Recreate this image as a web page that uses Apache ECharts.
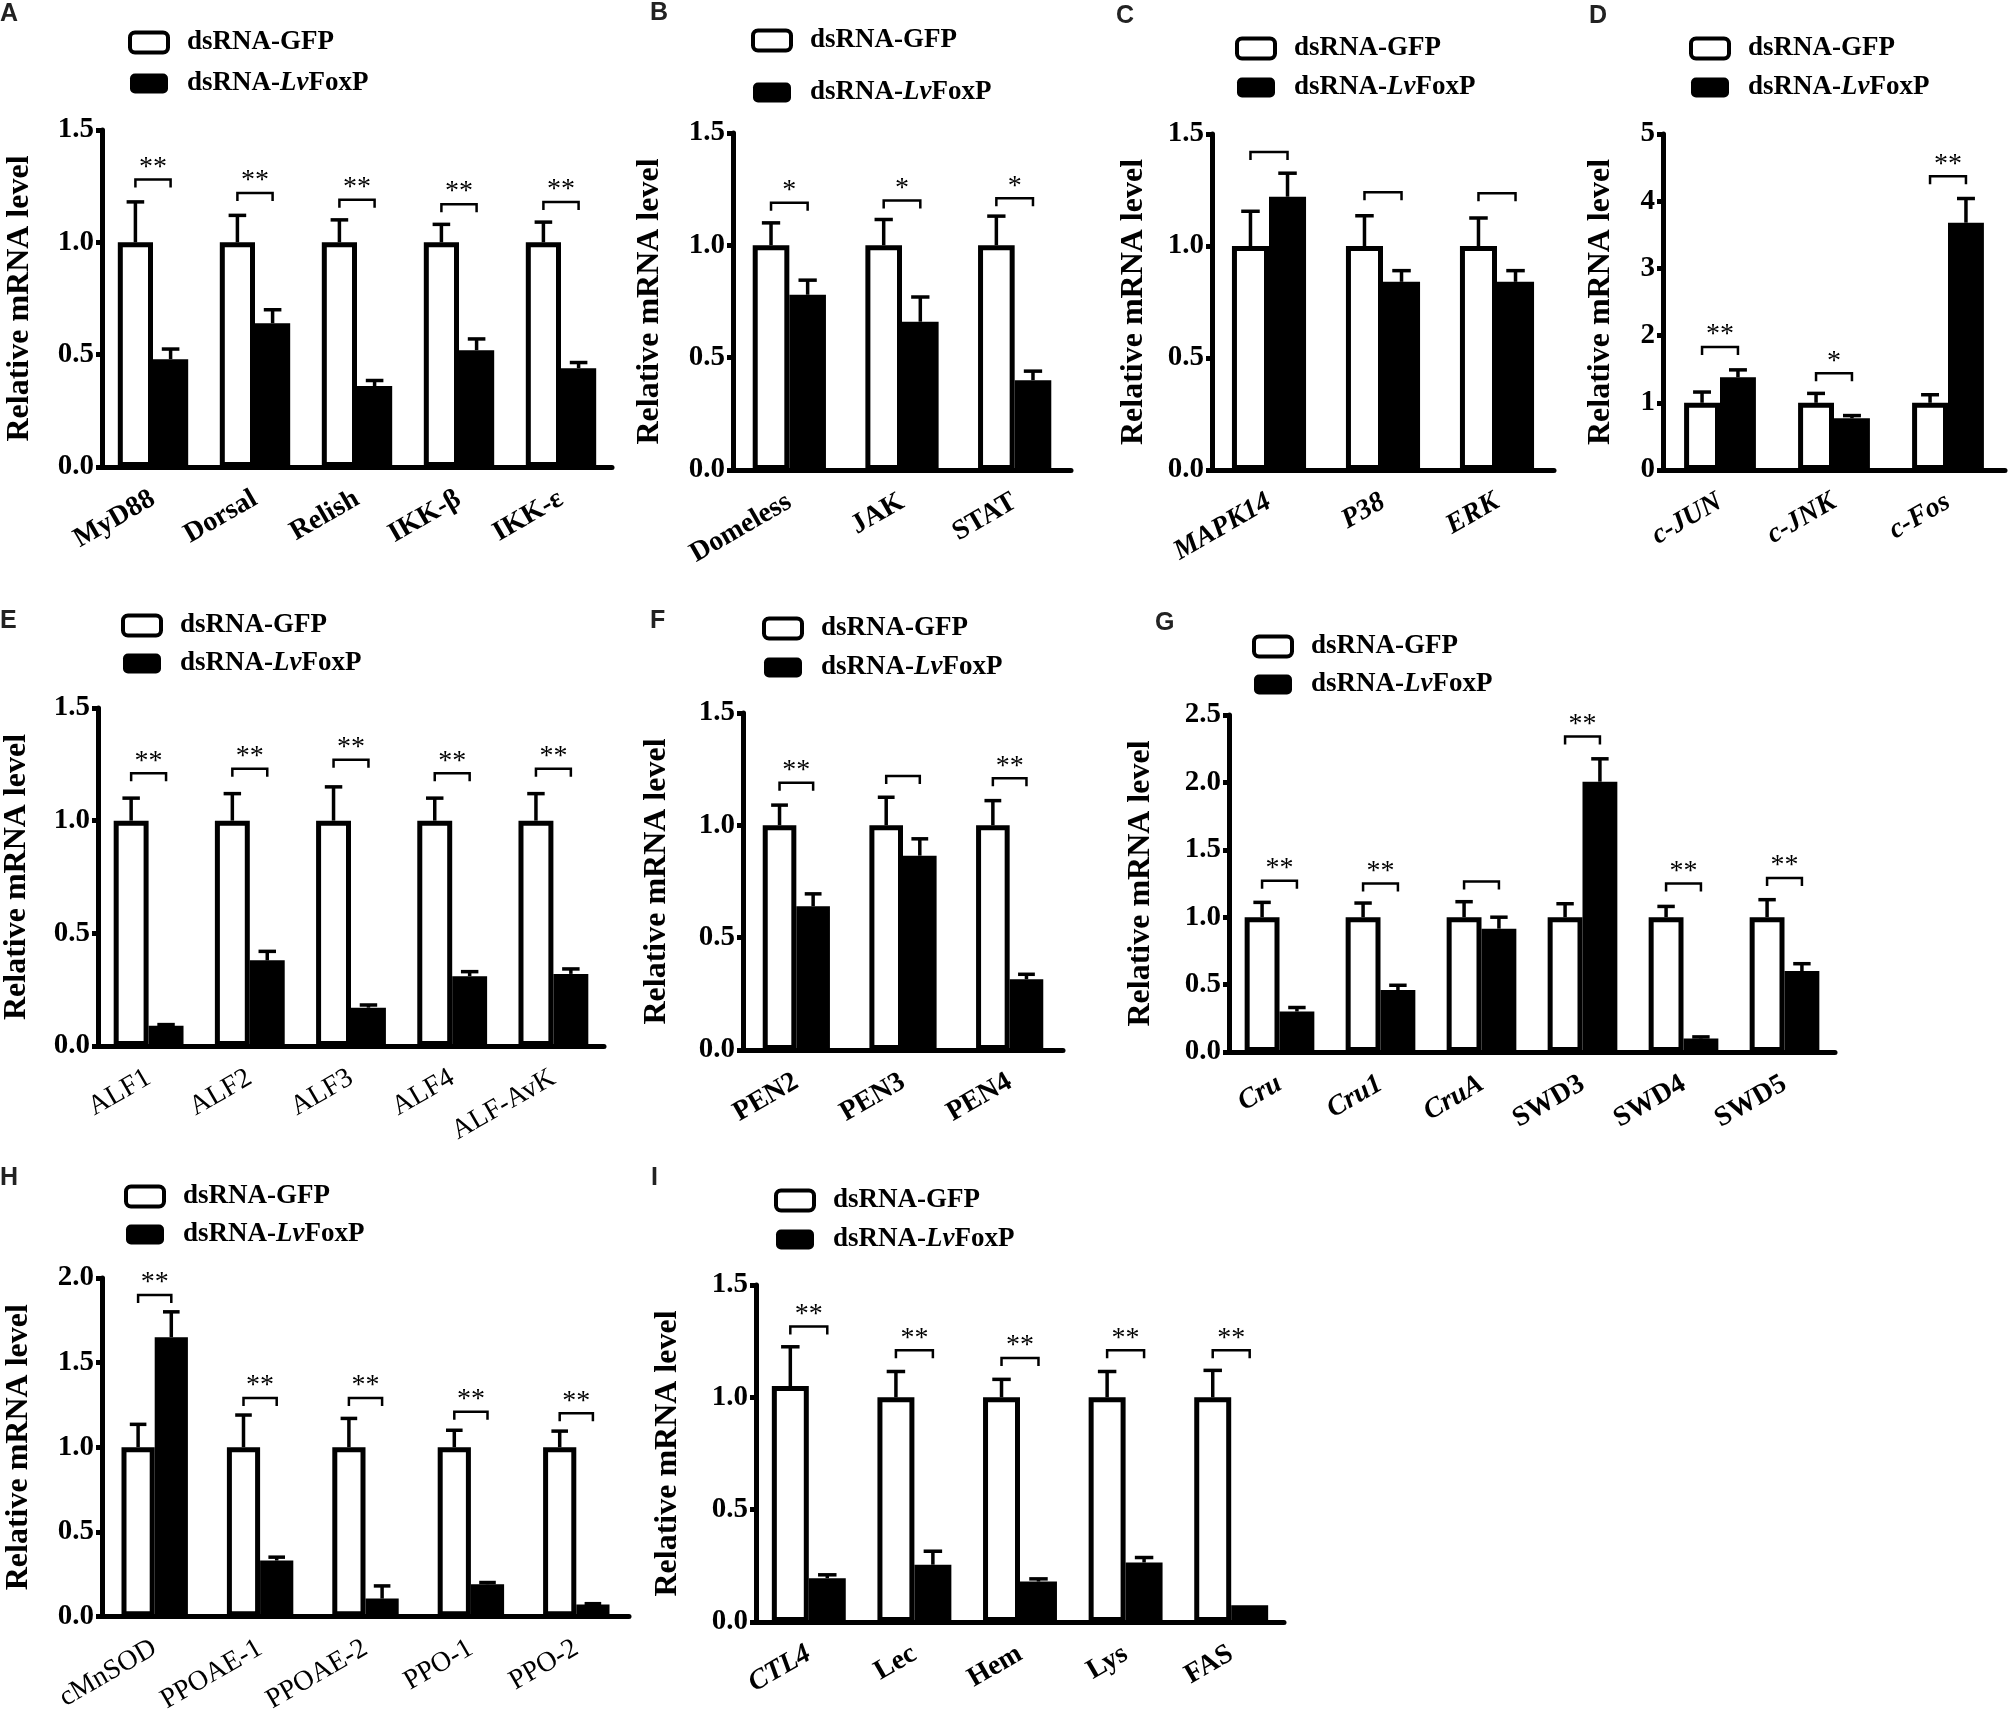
<!DOCTYPE html>
<html>
<head>
<meta charset="utf-8">
<script src="https://cdn.jsdelivr.net/npm/echarts@6/dist/echarts.min.js"></script>
<style>
  html, body { margin: 0; padding: 0; background: #fff; }
  #chart { width: 2009px; height: 1716px; }
</style>
</head>
<body>
<div id="chart"></div>
<script>
// A: Toll / IMD
const aCats = ['MyD88', 'Dorsal', 'Relish', 'IKK-β', 'IKK-ε'];
const aGfp = [1, 1, 1, 1, 1];
const aGfpSd = [0.18, 0.12, 0.10, 0.08, 0.09];
const aFox = [0.48, 0.64, 0.36, 0.52, 0.44];
const aFoxSd = [0.045, 0.06, 0.025, 0.05, 0.025];
const aSig = ['**', '**', '**', '**', '**'];
const aBracket = [1.28, 1.22, 1.19, 1.17, 1.18];

// B: JAK/STAT
const bCats = ['Domeless', 'JAK', 'STAT'];
const bGfp = [1, 1, 1];
const bGfpSd = [0.10, 0.115, 0.13];
const bFox = [0.78, 0.66, 0.40];
const bFoxSd = [0.065, 0.11, 0.04];
const bSig = ['*', '*', '*'];
const bBracket = [1.19, 1.20, 1.21];

// C: MAPK
const cCats = ['MAPK14', 'P38', 'ERK'];
const cGfp = [1, 1, 1];
const cGfpSd = [0.155, 0.135, 0.125];
const cFox = [1.22, 0.84, 0.84];
const cFoxSd = [0.105, 0.05, 0.05];
const cSig = ['', '', ''];
const cBracket = [1.42, 1.24, 1.235];

// D
const dCats = ['c-JUN', 'c-JNK', 'c-Fos'];
const dGfp = [1, 1, 1];
const dGfpSd = [0.16, 0.14, 0.12];
const dFox = [1.38, 0.77, 3.68];
const dFoxSd = [0.11, 0.04, 0.36];
const dSig = ['**', '*', '**'];
const dBracket = [1.83, 1.44, 4.37];

// E: ALF
const eCats = ['ALF1', 'ALF2', 'ALF3', 'ALF4', 'ALF-AvK'];
const eGfp = [1, 1, 1, 1, 1];
const eGfpSd = [0.10, 0.12, 0.15, 0.10, 0.12];
const eFox = [0.09, 0.38, 0.17, 0.31, 0.32];
const eFoxSd = [0.005, 0.04, 0.012, 0.02, 0.022];
const eSig = ['**', '**', '**', '**', '**'];
const eBracket = [1.21, 1.23, 1.27, 1.21, 1.23];

// F: PEN
const fCats = ['PEN2', 'PEN3', 'PEN4'];
const fGfp = [1, 1, 1];
const fGfpSd = [0.09, 0.125, 0.11];
const fFox = [0.64, 0.865, 0.315];
const fFoxSd = [0.055, 0.075, 0.022];
const fSig = ['**', '', '**'];
const fBracket = [1.19, 1.22, 1.21];

// G: Crustin / SWD
const gCats = ['Cru', 'Cru1', 'CruA', 'SWD3', 'SWD4', 'SWD5'];
const gGfp = [1, 1, 1, 1, 1, 1];
const gGfpSd = [0.11, 0.105, 0.115, 0.10, 0.08, 0.13];
const gFox = [0.30, 0.46, 0.915, 2.005, 0.10, 0.60];
const gFoxSd = [0.03, 0.035, 0.085, 0.17, 0.012, 0.055];
const gSig = ['**', '**', '', '**', '**', '**'];
const gBracket = [1.27, 1.25, 1.265, 2.34, 1.25, 1.29];

// H
const hCats = ['cMnSOD', 'PPOAE-1', 'PPOAE-2', 'PPO-1', 'PPO-2'];
const hGfp = [1, 1, 1, 1, 1];
const hGfpSd = [0.135, 0.19, 0.17, 0.10, 0.095];
const hFox = [1.65, 0.33, 0.105, 0.19, 0.07];
const hFoxSd = [0.15, 0.02, 0.075, 0.01, 0.005];
const hSig = ['**', '**', '**', '**', '**'];
const hBracket = [1.90, 1.29, 1.29, 1.21, 1.20];

// I
const iCats = ['CTL4', 'Lec', 'Hem', 'Lys', 'FAS'];
const iGfp = [1.05, 1, 1, 1, 1];
const iGfpSd = [0.175, 0.115, 0.08, 0.115, 0.12];
const iFox = [0.195, 0.255, 0.18, 0.265, 0.075];
const iFoxSd = [0.015, 0.06, 0.012, 0.022, 0];
const iSig = ['**', '**', '**', '**', '**'];
const iBracket = [1.315, 1.21, 1.175, 1.21, 1.21];

const SERIF = '"Liberation Serif", "Times New Roman", serif';
const SANS = '"Liberation Sans", Arial, sans-serif';

// 每个小图的版式: box = [轴左, 顶部刻度, 轴右, 零线]
const panels = [
  { letter: 'A', at: [0, 2], cats: aCats, gfp: aGfp, gfpSd: aGfpSd, fox: aFox, foxSd: aFoxSd, sig: aSig, bracket: aBracket,
    yMax: 1.5, step: 0.5, digits: 1, box: [102, 130, 612, 467], legend: [128, 39, 81], gap: 0.31, nameGap: 66,
    weight: 'bold', style: 'normal', italic: [] },
  { letter: 'B', at: [650, 1], cats: bCats, gfp: bGfp, gfpSd: bGfpSd, fox: bFox, foxSd: bFoxSd, sig: bSig, bracket: bBracket,
    yMax: 1.5, step: 0.5, digits: 1, box: [733, 133, 1071, 470], legend: [751, 37, 90], gap: 0.35, nameGap: 67,
    weight: 'bold', style: 'normal', italic: [] },
  { letter: 'C', at: [1116, 4], cats: cCats, gfp: cGfp, gfpSd: cGfpSd, fox: cFox, foxSd: cFoxSd, sig: cSig, bracket: cBracket,
    yMax: 1.5, step: 0.5, digits: 1, box: [1212, 134, 1554, 470], legend: [1235, 45, 85], gap: 0.35, nameGap: 62,
    weight: 'bold', style: 'italic', italic: [] },
  { letter: 'D', at: [1589, 4], cats: dCats, gfp: dGfp, gfpSd: dGfpSd, fox: dFox, foxSd: dFoxSd, sig: dSig, bracket: dBracket,
    yMax: 5, step: 1, digits: 0, box: [1663, 134, 2005, 470], legend: [1689, 45, 85], gap: 0.37, nameGap: 46,
    weight: 'bold', style: 'italic', italic: [] },
  { letter: 'E', at: [0, 609], cats: eCats, gfp: eGfp, gfpSd: eGfpSd, fox: eFox, foxSd: eFoxSd, sig: eSig, bracket: eBracket,
    yMax: 1.5, step: 0.5, digits: 1, box: [98, 708, 604, 1046], legend: [121, 622, 661], gap: 0.31, nameGap: 65,
    weight: 'normal', style: 'normal', italic: [] },
  { letter: 'F', at: [650, 609], cats: fCats, gfp: fGfp, gfpSd: fGfpSd, fox: fFox, foxSd: fFoxSd, sig: fSig, bracket: fBracket,
    yMax: 1.5, step: 0.5, digits: 1, box: [743, 713, 1063, 1050], legend: [762, 625, 665], gap: 0.37, nameGap: 70,
    weight: 'bold', style: 'normal', italic: [] },
  { letter: 'G', at: [1155, 611], cats: gCats, gfp: gGfp, gfpSd: gGfpSd, fox: gFox, foxSd: gFoxSd, sig: gSig, bracket: gBracket,
    yMax: 2.5, step: 0.5, digits: 1, box: [1229, 715, 1835, 1052], legend: [1252, 643, 682], gap: 0.31, nameGap: 72,
    weight: 'bold', style: 'normal', italic: ['Cru', 'Cru1', 'CruA'] },
  { letter: 'H', at: [0, 1166], cats: hCats, gfp: hGfp, gfpSd: hGfpSd, fox: hFox, foxSd: hFoxSd, sig: hSig, bracket: hBracket,
    yMax: 2, step: 0.5, digits: 1, box: [102, 1278, 629, 1619], legend: [124, 1193, 1232], gap: 0.37, nameGap: 67,
    weight: 'normal', style: 'normal', italic: [] },
  { letter: 'I', at: [651, 1166], cats: iCats, gfp: iGfp, gfpSd: iGfpSd, fox: iFox, foxSd: iFoxSd, sig: iSig, bracket: iBracket,
    yMax: 1.5, step: 0.5, digits: 1, box: [756, 1285, 1284, 1622], legend: [774, 1197, 1237], gap: 0.30, nameGap: 72,
    weight: 'bold', style: 'normal', italic: ['CTL4'] }
];

let grids = [], xAxes = [], yAxes = [], series = [], legends = [], titles = [];

panels.forEach((p, i) => {
  let [x0, y0, x1, y1] = p.box;
  grids.push({ left: x0, top: y0, width: x1 - x0, height: y1 - y0, containLabel: false });

  xAxes.push({
    type: 'category', gridIndex: i, data: p.cats,
    axisLine: { lineStyle: { color: '#000', width: 5 } },
    axisTick: { alignWithLabel: true, length: 10, lineStyle: { color: '#000', width: 5 } },
    axisLabel: {
      rotate: 30, margin: 30, color: '#000', interval: 0,
      fontFamily: SERIF, fontSize: 28, fontWeight: p.weight, fontStyle: p.style,
      formatter: v => p.italic.indexOf(v) >= 0 ? '{it|' + v + '}' : v,
      rich: { it: { fontFamily: SERIF, fontSize: 28, fontWeight: 'bold', fontStyle: 'italic', color: '#000' } }
    }
  });

  yAxes.push({
    type: 'value', gridIndex: i, min: 0, max: p.yMax, interval: p.step,
    name: 'Relative mRNA level', nameLocation: 'middle', nameGap: p.nameGap,
    nameTextStyle: { fontFamily: SERIF, fontSize: 32, fontWeight: 'bold', color: '#000' },
    axisLine: { show: true, lineStyle: { color: '#000', width: 5 } },
    axisTick: { show: true, length: 6, lineStyle: { color: '#000', width: 5 } },
    splitLine: { show: false },
    axisLabel: {
      margin: 8, color: '#000', fontFamily: SERIF, fontSize: 29, fontWeight: 'bold',
      formatter: v => v.toFixed(p.digits)
    }
  });

  series.push({
    name: 'dsRNA-GFP', type: 'bar', xAxisIndex: i, yAxisIndex: i, data: p.gfp,
    barGap: '0%', barCategoryGap: (p.gap * 100) + '%', silent: true,
    itemStyle: { color: '#fff', borderColor: '#000', borderWidth: 5 }
  });
  series.push({
    name: 'dsRNA-LvFoxP', type: 'bar', xAxisIndex: i, yAxisIndex: i, data: p.fox,
    barGap: '0%', barCategoryGap: (p.gap * 100) + '%', silent: true,
    itemStyle: { color: '#000', borderColor: '#000', borderWidth: 5 }
  });

  // 误差线 (只画上半部分)
  let errData = [];
  p.cats.forEach((c, k) => {
    errData.push([k, p.gfp[k], p.gfp[k] + p.gfpSd[k], -1]);
    if (p.foxSd[k] > 0) errData.push([k, p.fox[k], p.fox[k] + p.foxSd[k], 1]);
  });
  series.push({
    type: 'custom', xAxisIndex: i, yAxisIndex: i, silent: true, z: 5, data: errData,
    renderItem: (params, api) => {
      let base = api.coord([api.value(0), api.value(1)]);
      let top = api.coord([api.value(0), api.value(2)]);
      let bw = api.size([1, 0])[0] * (1 - p.gap) / 2;
      let x = base[0] + api.value(3) * bw / 2;
      let half = bw / 4;
      return {
        type: 'group', children: [
          { type: 'line', shape: { x1: x, y1: base[1], x2: x, y2: top[1] }, style: { stroke: '#000', lineWidth: 3.5 } },
          { type: 'line', shape: { x1: x - half, y1: top[1], x2: x + half, y2: top[1] }, style: { stroke: '#000', lineWidth: 3.5 } }
        ]
      };
    }
  });

  // 显著性括号和星号
  series.push({
    type: 'custom', xAxisIndex: i, yAxisIndex: i, silent: true, z: 6, clip: false,
    data: p.bracket.map((v, k) => [k, v]),
    renderItem: (params, api) => {
      let pt = api.coord([api.value(0), api.value(1)]);
      let bw = api.size([1, 0])[0] * (1 - p.gap) / 2;
      let xl = pt[0] - bw / 2, xr = pt[0] + bw / 2, y = pt[1];
      let kids = [{
        type: 'polyline',
        shape: { points: [[xl, y + 8], [xl, y], [xr, y], [xr, y + 8]] },
        style: { stroke: '#000', lineWidth: 2.5, fill: null }
      }];
      let s = p.sig[params.dataIndex];
      if (s) {
        kids.push({
          type: 'text',
          style: { text: s, x: pt[0], y: y + 2, align: 'center', verticalAlign: 'bottom',
            font: '28px ' + SERIF, fill: '#000' }
        });
      }
      return { type: 'group', children: kids };
    }
  });

  let [lx, c1, c2] = p.legend;
  legends.push({
    orient: 'vertical', left: lx, top: c1 - 10, padding: 0,
    itemWidth: 38, itemHeight: 20, itemGap: c2 - c1 - 28, selectedMode: false,
    data: [
      { name: 'dsRNA-GFP', icon: 'roundRect', itemStyle: { color: '#fff', borderColor: '#000', borderWidth: 4 } },
      { name: 'dsRNA-LvFoxP', icon: 'roundRect', itemStyle: { color: '#000', borderColor: '#000', borderWidth: 0 } }
    ],
    formatter: name => name === 'dsRNA-GFP'
      ? '{sp|}{t|dsRNA-GFP}'
      : '{sp|}{t|dsRNA-}{i|Lv}{t|FoxP}',
    textStyle: {
      rich: {
        sp: { width: 14, lineHeight: 20 },
        t: { fontFamily: SERIF, fontSize: 27, fontWeight: 'bold', color: '#000', lineHeight: 20 },
        i: { fontFamily: SERIF, fontSize: 27, fontWeight: 'bold', fontStyle: 'italic', color: '#000', lineHeight: 20 }
      }
    }
  });

  titles.push({
    text: p.letter, left: p.at[0], top: p.at[1], padding: 0,
    textStyle: { fontFamily: SANS, fontSize: 25, fontWeight: 'bold', color: '#222' }
  });
});

let chart = echarts.init(document.getElementById('chart'));
chart.setOption({
  backgroundColor: '#fff',
  animation: false,
  title: titles,
  legend: legends,
  grid: grids,
  xAxis: xAxes,
  yAxis: yAxes,
  series: series
});
</script>
</body>
</html>
